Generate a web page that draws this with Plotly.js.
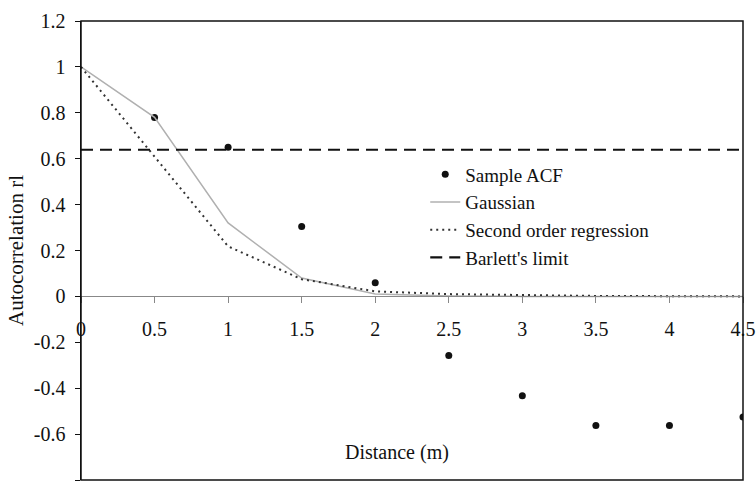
<!DOCTYPE html>
<html>
<head>
<meta charset="utf-8">
<script src="https://cdn.plot.ly/plotly-3.0.1.min.js"></script>
<style>html,body{margin:0;padding:0;background:#fff;}#chart{width:756px;height:488px;}</style>
</head>
<body>
<div id="chart"></div>
<script>
// Sample autocorrelation function
const lagX = [0.5, 1, 1.5, 2, 2.5, 3, 3.5, 4, 4.5];
const sampleACF = [0.78, 0.65, 0.305, 0.06, -0.257, -0.433, -0.562, -0.562, -0.525];

// Fitted models (evaluated at 0.5 m steps)
const modelX = [0, 0.5, 1, 1.5, 2, 2.5, 3, 3.5, 4, 4.5];
const gaussian = [1, 0.78, 0.32, 0.08, 0.01, 0.002, 0, 0, 0, 0];
const secondOrder = [1, 0.61, 0.218, 0.075, 0.022, 0.01, 0.005, 0.002, 0.001, 0];

// Barlett's limit
const barlettX = [0, 4.5];
const barlettY = [0.639, 0.639];

// Axis ticks
const xTickVals = [0, 0.5, 1, 1.5, 2, 2.5, 3, 3.5, 4, 4.5];
const xTickText = ['0', '0.5', '1', '1.5', '2', '2.5', '3', '3.5', '4', '4.5'];
const yTickVals = [-0.8, -0.6, -0.4, -0.2, 0, 0.2, 0.4, 0.6, 0.8, 1, 1.2];
const yTickText = ['-0.8', '-0.6', '-0.4', '-0.2', '0', '0.2', '0.4', '0.6', '0.8', '1', '1.2'];

const FONT = 'Liberation Serif, Times New Roman, serif';

const traces = [
  {x: lagX, y: sampleACF, name: 'Sample ACF', type: 'scatter', mode: 'markers',
   marker: {color: '#111', size: 7, symbol: 'circle'}},
  {x: modelX, y: gaussian, name: 'Gaussian', type: 'scatter', mode: 'lines',
   line: {color: '#b0b0b0', width: 1.5}},
  {x: modelX, y: secondOrder, name: 'Second order regression', type: 'scatter', mode: 'lines',
   line: {color: '#333', width: 2, dash: '2px,4px'}},
  {x: barlettX, y: barlettY, name: "Barlett's limit", type: 'scatter', mode: 'lines',
   line: {color: '#111', width: 2.2, dash: '12px,7px'}}
];

const layout = {
  width: 756, height: 488,
  margin: {l: 81, r: 13, t: 21, b: 8, pad: 0},
  paper_bgcolor: '#fff', plot_bgcolor: '#fff',
  font: {family: FONT, size: 20, color: '#111'},
  showlegend: true,
  legend: {x: 0.52, xanchor: 'left', y: 0.707, yanchor: 'top',
    bgcolor: 'rgba(0,0,0,0)', font: {family: FONT, size: 19, color: '#111'},
    tracegroupgap: 0, itemwidth: 30},
  xaxis: {
    range: [0, 4.5], anchor: 'free', position: 0.4,
    tickmode: 'array', tickvals: xTickVals, ticktext: xTickText,
    showline: true, linecolor: '#888', linewidth: 1,
    ticks: 'outside', ticklen: 6, tickcolor: '#888', tickwidth: 1,
    ticklabelstandoff: 9,
    showgrid: false, zeroline: false, automargin: false,
    tickfont: {family: FONT, size: 20, color: '#111'}
  },
  yaxis: {
    range: [-0.8, 1.2],
    tickmode: 'array', tickvals: yTickVals, ticktext: yTickText,
    showline: true, linecolor: '#111', linewidth: 1.5,
    ticks: 'outside', ticklen: 5, tickcolor: '#111', tickwidth: 1,
    ticklabelstandoff: 5,
    showgrid: false, zeroline: false, automargin: false,
    tickfont: {family: FONT, size: 20, color: '#111'},
    title: {text: 'Autocorrelation rl', standoff: 4, font: {family: FONT, size: 21, color: '#111'}}
  },
  shapes: [
    {type: 'rect', xref: 'paper', yref: 'paper', x0: 0, x1: 1, y0: 0, y1: 1,
     line: {color: '#111', width: 1.5}, fillcolor: 'rgba(0,0,0,0)', layer: 'above'}
  ],
  annotations: [
    {text: 'Distance (m)', xref: 'x', yref: 'y', x: 2.15, y: -0.68,
     showarrow: false, xanchor: 'center', yanchor: 'middle',
     font: {family: FONT, size: 20, color: '#111'}}
  ]
};

Plotly.newPlot('chart', traces, layout, {displayModeBar: false, staticPlot: true});
</script>
</body>
</html>
